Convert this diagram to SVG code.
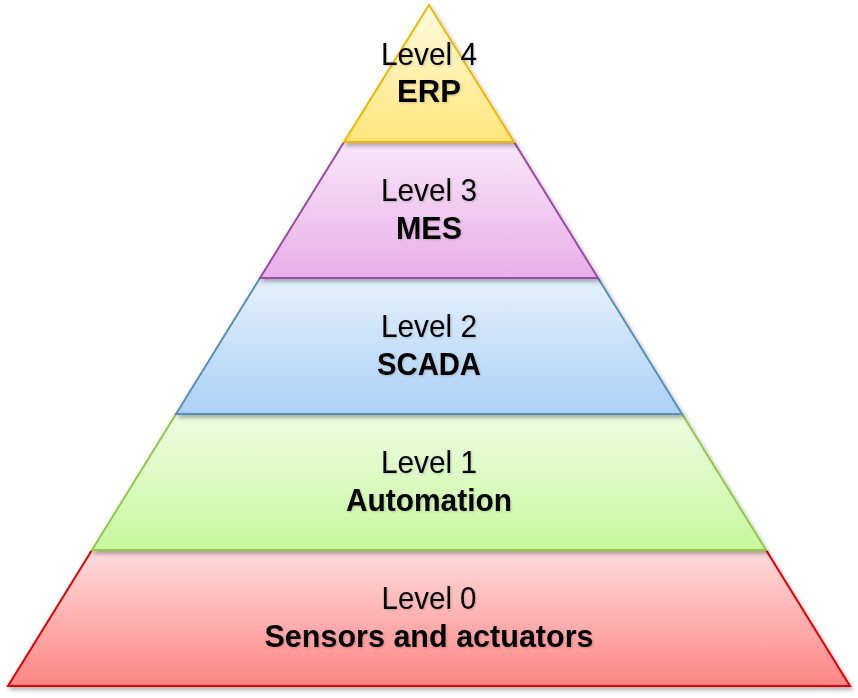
<svg xmlns="http://www.w3.org/2000/svg" width="858" height="698" viewBox="0 0 858 698">
<defs>
<linearGradient id="g4" x1="0" y1="0" x2="0" y2="1"><stop offset="0" stop-color="#fffbe0"/><stop offset="1" stop-color="#ffe57a"/></linearGradient>
<linearGradient id="g3" x1="0" y1="0" x2="0" y2="1"><stop offset="0" stop-color="#f9e6f9"/><stop offset="1" stop-color="#e8aee8"/></linearGradient>
<linearGradient id="g2" x1="0" y1="0" x2="0" y2="1"><stop offset="0" stop-color="#e4f1fc"/><stop offset="1" stop-color="#acd0f5"/></linearGradient>
<linearGradient id="g1" x1="0" y1="0" x2="0" y2="1"><stop offset="0" stop-color="#effde4"/><stop offset="1" stop-color="#c6f79c"/></linearGradient>
<linearGradient id="g0" x1="0" y1="0" x2="0" y2="1"><stop offset="0" stop-color="#ffdcdc"/><stop offset="1" stop-color="#ff8585"/></linearGradient>
<filter id="sh" x="-5%" y="-5%" width="115%" height="115%">
<feDropShadow dx="2" dy="3" stdDeviation="2" flood-color="#000" flood-opacity="0.3"/>
</filter>
<filter id="tsh" x="-10%" y="-20%" width="120%" height="150%">
<feDropShadow dx="1" dy="1" stdDeviation="1.2" flood-color="#000" flood-opacity="0.18"/>
</filter>
</defs>
<style>
.lv{font-family:"Liberation Sans",Arial,sans-serif;font-size:31.5px;fill:#000;text-anchor:middle}
.nm{font-family:"Liberation Sans",Arial,sans-serif;font-size:31.5px;font-weight:bold;fill:#000;text-anchor:middle}
.t{filter:url(#tsh)}
path{stroke-width:2;stroke-linejoin:miter}
</style>
<g id="level0">
<path d="M92,550 L766,550 L850,686 L8,686 Z" fill="url(#g0)" stroke="#e60000" filter="url(#sh)"/>
<g class="t"><text class="lv" x="429" y="609" textLength="95" lengthAdjust="spacingAndGlyphs">Level 0</text>
<text class="nm" x="429" y="647" textLength="329" lengthAdjust="spacingAndGlyphs">Sensors and actuators</text></g>
</g>
<g id="level1">
<path d="M176,414 L682,414 L766,550 L92,550 Z" fill="url(#g1)" stroke="#8ccc48" filter="url(#sh)"/>
<g class="t"><text class="lv" x="429" y="473" textLength="96" lengthAdjust="spacingAndGlyphs">Level 1</text>
<text class="nm" x="429" y="511" textLength="166" lengthAdjust="spacingAndGlyphs">Automation</text></g>
</g>
<g id="level2">
<path d="M260,278 L598,278 L682,414 L176,414 Z" fill="url(#g2)" stroke="#5a8fb8" filter="url(#sh)"/>
<g class="t"><text class="lv" x="429" y="337" textLength="96" lengthAdjust="spacingAndGlyphs">Level 2</text>
<text class="nm" x="429" y="375" textLength="104" lengthAdjust="spacingAndGlyphs">SCADA</text></g>
</g>
<g id="level3">
<path d="M344,142 L514,142 L598,278 L260,278 Z" fill="url(#g3)" stroke="#9c4ca6" filter="url(#sh)"/>
<g class="t"><text class="lv" x="429" y="201" textLength="96" lengthAdjust="spacingAndGlyphs">Level 3</text>
<text class="nm" x="429" y="239" textLength="66" lengthAdjust="spacingAndGlyphs">MES</text></g>
</g>
<g id="level4">
<path d="M429,5 L514,142 L344,142 Z" fill="url(#g4)" stroke="#f2b800" filter="url(#sh)"/>
<g class="t"><text class="lv" x="429" y="65" textLength="96" lengthAdjust="spacingAndGlyphs">Level 4</text>
<text class="nm" x="429" y="102" textLength="64" lengthAdjust="spacingAndGlyphs">ERP</text></g>
</g>
<g id="connectors"/>
</svg>
